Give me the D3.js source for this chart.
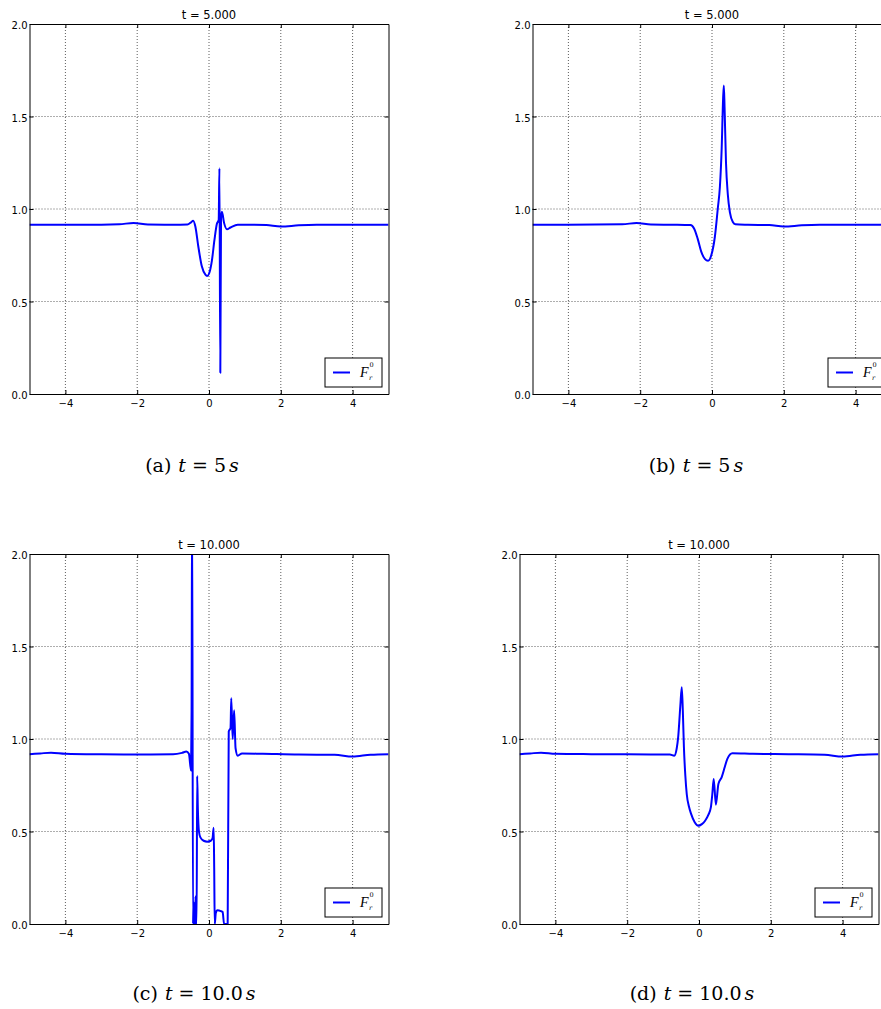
<!DOCTYPE html>
<html>
<head>
<meta charset="utf-8">
<script src="https://cdnjs.cloudflare.com/ajax/libs/d3/7.8.5/d3.min.js"></script>
<style>
  body { margin: 0; background: #fff; }
  svg { display: block; }
</style>
</head>
<body>
<div id="chart"></div>
<script>
// tick values shared by all four panels
const xTicks = [-4, -2, 0, 2, 4];
const yTicks = [0, 0.5, 1.0, 1.5, 2.0];

// curve samples [x, F]
const curveA = [
  [-5, 0.915], [-3.0, 0.915], [-2.5, 0.917], [-2.1, 0.925], [-1.7, 0.916], [-1.0, 0.915],
  [-0.6, 0.916], [-0.5, 0.928], [-0.44, 0.937], [-0.38, 0.905], [-0.3, 0.80], [-0.2, 0.69],
  [-0.1, 0.645], [-0.05, 0.638], [0.0, 0.65], [0.08, 0.72], [0.15, 0.83], [0.22, 0.92],
  [0.27, 0.94], [0.29, 1.22], [0.315, 0.115], [0.335, 0.95], [0.36, 0.985], [0.42, 0.925],
  [0.5, 0.89], [0.6, 0.9], [0.8, 0.915], [1.2, 0.915], [1.6, 0.913], [2.0, 0.905],
  [2.5, 0.912], [3.0, 0.915], [5.0, 0.915]
];

const curveB = [
  [-5, 0.915], [-2.5, 0.917], [-2.1, 0.925], [-1.7, 0.916], [-1.0, 0.915], [-0.6, 0.913],
  [-0.5, 0.895], [-0.4, 0.84], [-0.3, 0.77], [-0.2, 0.73], [-0.11, 0.72], [-0.02, 0.75],
  [0.08, 0.85], [0.16, 1.0], [0.22, 1.12], [0.27, 1.33], [0.31, 1.6], [0.33, 1.667],
  [0.35, 1.55], [0.39, 1.25], [0.44, 1.08], [0.5, 0.98], [0.58, 0.93], [0.65, 0.918],
  [1.0, 0.915], [1.6, 0.913], [2.0, 0.905], [2.5, 0.912], [3.0, 0.915], [5, 0.915]
];

const curveC = [
  [-5, 0.918], [-4.7, 0.922], [-4.4, 0.926], [-4.0, 0.92], [-3.0, 0.917], [-2.0, 0.916],
  [-1.0, 0.917], [-0.75, 0.925], [-0.63, 0.932], [-0.56, 0.92], [-0.5, 0.83], [-0.485, 1.15],
  [-0.47, 2.3], [-0.445, 0.0], [-0.43, 0.12], [-0.415, 0.0], [-0.39, 0.0], [-0.375, 0.15],
  [-0.36, 0.0], [-0.345, 0.0], [-0.33, 0.80], [-0.31, 0.62], [-0.28, 0.50], [-0.24, 0.468],
  [-0.15, 0.45], [-0.05, 0.445], [0.05, 0.45], [0.1, 0.465], [0.13, 0.52], [0.145, 0.3],
  [0.16, 0.0], [0.19, 0.06], [0.23, 0.074], [0.33, 0.07], [0.38, 0.065], [0.42, 0.0],
  [0.52, 0.0], [0.55, 1.04], [0.6, 1.06], [0.62, 1.22], [0.66, 1.0], [0.70, 1.155],
  [0.74, 0.95], [0.8, 0.91], [0.92, 0.922], [1.5, 0.92], [2.5, 0.916], [3.5, 0.915],
  [4.0, 0.905], [4.5, 0.915], [5, 0.918]
];

const curveD = [
  [-5, 0.918], [-4.7, 0.922], [-4.4, 0.926], [-4.0, 0.92], [-3, 0.918], [-2, 0.917],
  [-1, 0.916], [-0.81, 0.916], [-0.69, 0.91], [-0.62, 0.95], [-0.58, 1.01], [-0.52, 1.18],
  [-0.48, 1.28], [-0.45, 1.15], [-0.42, 0.955], [-0.38, 0.8], [-0.34, 0.70], [-0.28, 0.635],
  [-0.22, 0.595], [-0.12, 0.55], [-0.02, 0.531], [0.08, 0.54], [0.17, 0.558], [0.26, 0.59],
  [0.33, 0.63], [0.37, 0.7], [0.41, 0.784], [0.47, 0.645], [0.54, 0.757], [0.63, 0.793],
  [0.72, 0.85], [0.79, 0.893], [0.93, 0.923], [1.5, 0.92], [2.5, 0.918], [3.5, 0.915],
  [4.0, 0.905], [4.5, 0.915], [5, 0.918]
];

const titles = ["t = 5.000", "t = 5.000", "t = 10.000", "t = 10.000"];
const captionLetters = ["a", "b", "c", "d"];
const captionTimes = ["5", "5", "10.0", "10.0"];

// panel placement on the page
const panels = [
  { left: 29.5, top: 24, capX: 192, capY: 472, data: curveA },
  { left: 532.5, top: 24, capX: 696, capY: 472, data: curveB },
  { left: 29.5, top: 554, capX: 194, capY: 1000, data: curveC },
  { left: 519.5, top: 554, capX: 692, capY: 1000, data: curveD }
];
const plotW = 359;
const plotH = 370;

const svg = d3.select("#chart")
  .append("svg")
  .attr("width", 881)
  .attr("height", 1009);

svg.append("rect").attr("width", 881).attr("height", 1009).attr("fill", "#fff");

panels.forEach((p, i) => {
  const x = d3.scaleLinear().domain([-5, 5]).range([0, plotW]);
  const y = d3.scaleLinear().domain([0, 2]).range([plotH, 0]);

  const g = svg.append("g")
    .attr("transform", `translate(${p.left},${p.top})`);

  g.append("clipPath")
    .attr("id", "clip" + i)
    .append("rect")
    .attr("width", plotW)
    .attr("height", plotH);

  // dotted grid
  g.append("g")
    .selectAll("line.vgrid")
    .data(xTicks)
    .enter()
    .append("line")
    .attr("x1", d => x(d)).attr("x2", d => x(d))
    .attr("y1", 0).attr("y2", plotH)
    .attr("stroke", "#333")
    .attr("stroke-width", 0.8)
    .attr("stroke-dasharray", "1,2");

  g.append("g")
    .selectAll("line.hgrid")
    .data(yTicks.slice(1, -1))
    .enter()
    .append("line")
    .attr("x1", 0).attr("x2", plotW)
    .attr("y1", d => y(d)).attr("y2", d => y(d))
    .attr("stroke", "#333")
    .attr("stroke-width", 0.8)
    .attr("stroke-dasharray", "1,2");

  // curve
  const line = d3.line()
    .x(d => x(d[0]))
    .y(d => y(d[1]))
    .curve(d3.curveMonotoneX);

  g.append("path")
    .datum(p.data)
    .attr("clip-path", `url(#clip${i})`)
    .attr("fill", "none")
    .attr("stroke", "#0000ff")
    .attr("stroke-width", 2)
    .attr("stroke-linejoin", "round")
    .attr("d", line);

  // axes with inward ticks on all four sides
  const fmt = d3.format(".1f");
  g.append("g")
    .attr("transform", `translate(0,${plotH})`)
    .call(d3.axisBottom(x).tickValues(xTicks).tickSize(-4).tickSizeOuter(0).tickPadding(6));
  const yAxis = g.append("g")
    .call(d3.axisLeft(y).tickValues(yTicks).tickFormat(fmt).tickSize(-4).tickSizeOuter(0).tickPadding(2));
  g.append("g")
    .call(d3.axisTop(x).tickValues(xTicks).tickSize(-4).tickSizeOuter(0).tickFormat(""));
  g.append("g")
    .attr("transform", `translate(${plotW},0)`)
    .call(d3.axisRight(y).tickValues(yTicks).tickSize(-4).tickSizeOuter(0).tickFormat(""));

  g.selectAll(".domain").attr("stroke", "#000").attr("stroke-width", 1);
  g.selectAll(".tick line").attr("stroke", "#000").attr("stroke-width", 1);
  g.selectAll(".tick text")
    .attr("fill", "#000")
    .style("font-family", "DejaVu Sans")
    .style("font-size", "10px");
  yAxis.selectAll(".tick text").attr("dy", "0.45em");

  // title
  g.append("text")
    .attr("x", plotW / 2)
    .attr("y", -5)
    .attr("text-anchor", "middle")
    .style("font-family", "DejaVu Sans")
    .style("font-size", "11.5px")
    .text(titles[i]);

  // legend
  const lg = g.append("g")
    .attr("transform", `translate(${plotW - 63.5},${plotH - 36})`);
  lg.append("rect")
    .attr("width", 57)
    .attr("height", 29)
    .attr("fill", "#fff")
    .attr("stroke", "#000")
    .attr("stroke-width", 1);
  lg.append("line")
    .attr("x1", 8).attr("x2", 25)
    .attr("y1", 14.5).attr("y2", 14.5)
    .attr("stroke", "#0000ff")
    .attr("stroke-width", 2);
  lg.append("text")
    .attr("x", 35).attr("y", 19)
    .style("font-family", "Liberation Serif")
    .style("font-style", "italic")
    .style("font-size", "14px")
    .text("F");
  lg.append("text")
    .attr("x", 44.5).attr("y", 8.5)
    .style("font-family", "DejaVu Serif")
    .style("font-size", "6.5px")
    .text("0");
  lg.append("text")
    .attr("x", 44).attr("y", 22)
    .style("font-family", "DejaVu Serif")
    .style("font-style", "italic")
    .style("font-size", "6.5px")
    .text("r");

  // sub-figure caption
  const cap = svg.append("text")
    .attr("x", p.capX)
    .attr("y", p.capY)
    .attr("text-anchor", "middle")
    .style("font-family", "DejaVu Serif")
    .style("font-size", "19px");
  cap.append("tspan").text(`(${captionLetters[i]})`);
  cap.append("tspan").attr("dx", 7).style("font-style", "italic").text("t");
  cap.append("tspan").attr("dx", 6).text("=");
  cap.append("tspan").attr("dx", 6).text(captionTimes[i]);
  cap.append("tspan").attr("dx", 3).style("font-style", "italic").text("s");
});
</script>
</body>
</html>
